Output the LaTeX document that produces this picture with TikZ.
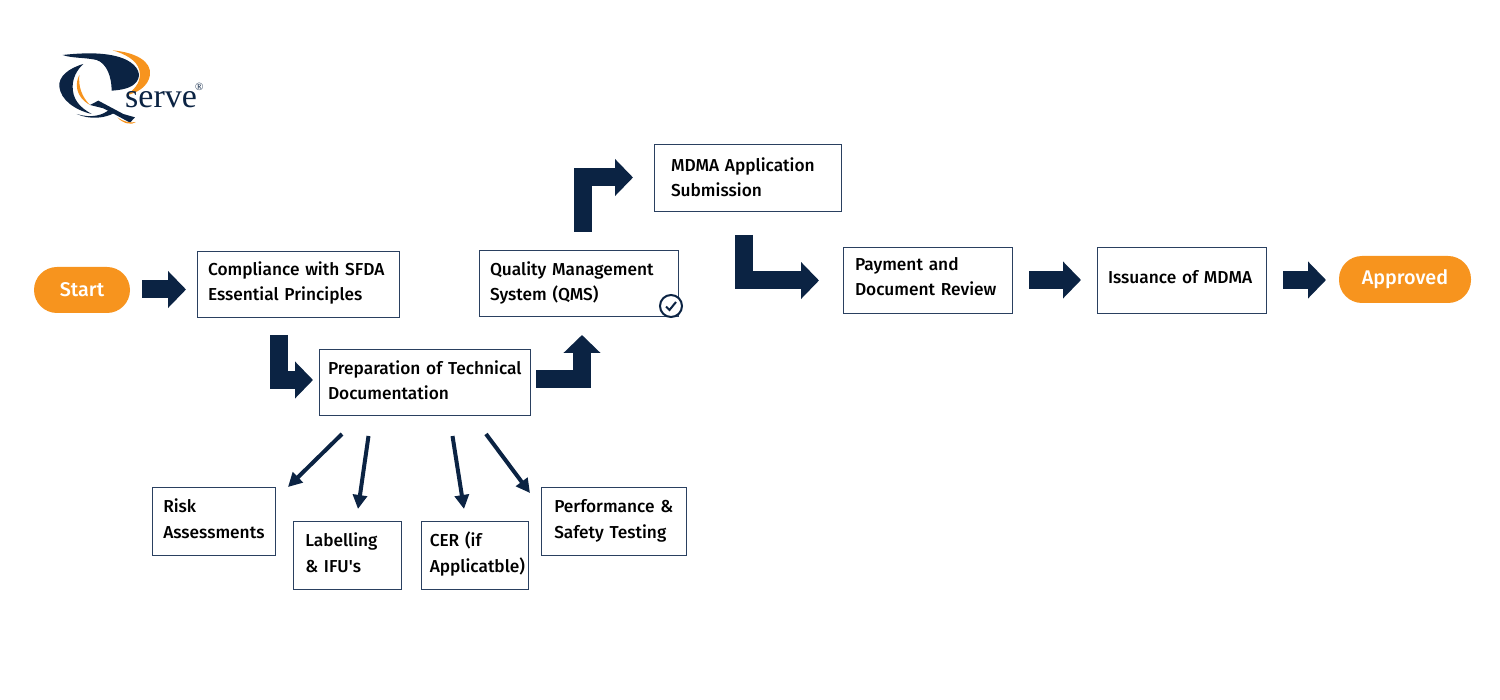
\documentclass[tikz,border=0pt]{standalone}
\usepackage{fontspec}
\setmainfont{Fira Sans}[UprightFont=* Medium]
\newfontfamily\logofont{Liberation Serif}
\usetikzlibrary{arrows.meta}
\hyphenpenalty=10000
\exhyphenpenalty=10000
\definecolor{navy}{HTML}{0B2343}
\definecolor{edge}{HTML}{2A4060}
\definecolor{amber}{HTML}{F7941E}
\tikzset{
  box/.style={draw=edge,line width=1pt,rectangle,anchor=north west,align=left,inner ysep=0pt,outer sep=0pt,
    font=\fontsize{17.3}{25.5}\selectfont,text=black},
  bx/.style n args={4}{text width=#1pt,inner xsep=#2pt,text height=#3pt,text depth=#4pt},
  pill/.style={fill=amber,rounded corners=23pt,text=white,inner sep=0pt,anchor=north west,outer sep=0pt,
    font=\fontsize{19.8}{24}\selectfont},
  blockarrow/.style={navy,line width=18pt,-{Triangle[length=18pt,width=36pt]}},
  thinarrow/.style={navy,line width=4pt,-{Triangle[length=14pt,width=14pt]}},
  logodark/.style={fill=navy,draw=none},
  logoorange/.style={fill=amber,draw=none}
}
\begin{document}
\begin{tikzpicture}[x=1pt,y=-1pt]
\useasboundingbox (0,0) rectangle (1500,700);
% logo
\begin{scope}[shift={(40,40)},x=0.3333pt,y=-0.3333pt]
  \path[logoorange] (218,31) .. controls (290,38) and (335,65) .. (330,105) .. controls (325,140) and (290,160) .. (258,166) .. controls (290,145) and (305,120) .. (298,90) .. controls (290,60) and (255,42) .. (218,31) -- cycle;
  \path[logodark] (68,45) .. controls (130,38) and (210,35) .. (260,60) .. controls (295,78) and (305,105) .. (290,125) .. controls (275,145) and (245,150) .. (215,152) .. controls (215,110) and (200,70) .. (170,60) .. controls (135,52) and (95,55) .. (68,45) -- cycle;
  \path[logodark] (130,72) .. controls (85,85) and (55,110) .. (58,140) .. controls (62,180) and (105,210) .. (155,222) .. controls (115,200) and (98,175) .. (98,140) .. controls (98,115) and (110,90) .. (130,72) -- cycle;
  \path[logoorange] (118,105) .. controls (105,130) and (105,170) .. (150,195) .. controls (125,170) and (115,140) .. (118,105) -- cycle;
  \path[logodark] (150,195) -- (175,182) -- (250,222) -- (285,232) -- (270,248) -- (215,218) -- (190,205) -- cycle;
  \path[logodark] (110,222) .. controls (150,235) and (190,228) .. (212,205) -- (225,218) .. controls (195,235) and (150,240) .. (110,222) -- cycle;
  \path[logoorange] (232,232) .. controls (250,245) and (270,250) .. (288,246) .. controls (275,256) and (250,252) .. (232,232) -- cycle;
  \node[anchor=base west,inner sep=0pt,text=navy,font=\logofont\fontsize{34}{34}\selectfont] (serve) at (255,204) {serve};
  \node[anchor=center,inner sep=0pt,text=navy,font=\logofont\fontsize{11}{11}\selectfont] (reg) at (478,141) {®};
\end{scope}
% nodes
\node[pill,minimum width=96pt,minimum height=46pt] (start) at (34,267) {Start};
\node[pill,minimum width=132pt,minimum height=47pt] (approved) at (1339,256) {Approved};
\node[box,bx={181}{10.5}{24}{42.5}] (comp) at (197.5,251.5) {Compliance with SFDA\\Essential Principles};
\node[box,bx={178}{10.5}{25}{41.5}] (qms) at (479.5,250.5) {Quality Management\\System (QMS)};
\node[box,bx={194}{8.5}{25}{41.5}] (prep) at (319.5,349.5) {\mbox{Preparation of Technical}\\Documentation};
\node[box,bx={154}{16.5}{27}{40}] (mdma) at (654.5,144.5) {MDMA Application\\Submission};
\node[box,bx={146}{11.5}{23}{43.5}] (pay) at (843.5,247.5) {Payment and\\Document Review};
\node[box,bx={148}{10.5}{36}{30.5}] (iss) at (1097.5,247.5) {Issuance of MDMA};
\node[box,bx={101}{10.75}{25}{42.5}] (risk) at (152.5,487.5) {Risk\\Assessments};
\node[box,bx={84}{11.75}{25}{42.5}] (lab) at (293.5,521.5) {Labelling\\\&\ IFU\textquotesingle s};
\node[box,bx={90}{8.75}{25}{42.5}] (cer) at (421,521.5) {CER (if\\\mbox{Applicatble)}};
\node[box,bx={119}{12.75}{25}{42.5}] (perf) at (541.5,487.5) {\mbox{Performance \&}\\Safety Testing};
% check badge
\node[draw=navy,line width=2pt,circle,fill=white,minimum size=22pt,inner sep=0pt] (badge) at (671,306) {};
\draw[navy,line width=2pt] ([shift={(-5,0.5)}]badge.center) -- ([shift={(-1.5,4)}]badge.center) -- ([shift={(5,-4)}]badge.center);
% block arrows
\coordinate (a1s) at (142,289.5); \coordinate (a1e) at (186,289.5);
\coordinate (a2s) at (278.5,335); \coordinate (a2e) at (313,380);
\coordinate (a3s) at (536,379.5); \coordinate (a3e) at (582,335);
\coordinate (a4s) at (582.5,232); \coordinate (a4e) at (633,177.5);
\coordinate (a5s) at (743.5,235); \coordinate (a5e) at (819,280.5);
\coordinate (a6s) at (1029,280); \coordinate (a6e) at (1081,280);
\coordinate (a7s) at (1283,280); \coordinate (a7e) at (1326,280);
\draw[blockarrow] (a1s) -- (a1e);
\draw[blockarrow] (a2s) |- (a2e);
\draw[blockarrow] (a3s) -| (a3e);
\draw[blockarrow] (a4s) |- (a4e);
\draw[blockarrow] (a5s) |- (a5e);
\draw[blockarrow] (a6s) -- (a6e);
\draw[blockarrow] (a7s) -- (a7e);
% thin arrows
\coordinate (t1s) at (342,434); \coordinate (t1e) at (288,487);
\coordinate (t2s) at (368.5,436); \coordinate (t2e) at (358,509);
\coordinate (t3s) at (452.5,436); \coordinate (t3e) at (464,509);
\coordinate (t4s) at (486,434); \coordinate (t4e) at (530,493);
\draw[thinarrow] (t1s) -- (t1e);
\draw[thinarrow] (t2s) -- (t2e);
\draw[thinarrow] (t3s) -- (t3e);
\draw[thinarrow] (t4s) -- (t4e);
\end{tikzpicture}
\end{document}
